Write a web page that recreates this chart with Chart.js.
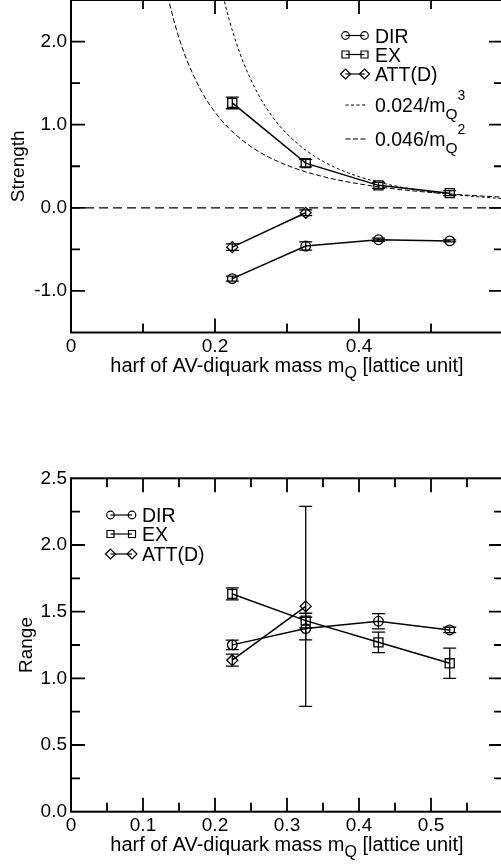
<!DOCTYPE html>
<html><head><meta charset="utf-8">
<script src="https://cdn.jsdelivr.net/npm/chart.js@4.4.0/dist/chart.umd.min.js"></script>
<style>
html,body{margin:0;padding:0;background:#fff;overflow:hidden;}
#wrap{position:relative;width:501px;height:865px;overflow:hidden;background:#fff;}
canvas{position:absolute;left:0;}
#c1{top:0;} #c2{top:440px;}
</style></head><body>
<div id="wrap"><canvas id="c1" width="503" height="400"></canvas><canvas id="c2" width="503" height="425"></canvas></div>
<script>
// ---------- data ----------
const mQ = [0.224, 0.326, 0.427, 0.526];
const mQAtt = [0.224, 0.326];

// Strength panel
const dirStrength    = [-0.852, -0.46, -0.384, -0.398];
const dirStrengthErr = [0.03, 0.05, 0.02, 0.012];
const exStrength     = [1.262, 0.537, 0.27, 0.176];
const exStrengthErr  = [0.07, 0.045, 0.035, 0.03];
const attStrength    = [-0.473, -0.06];
const attStrengthErr = [0.04, 0.035];

// reference curves
const curve3M = [0.20, 0.21, 0.22, 0.23, 0.24, 0.26, 0.28, 0.30, 0.33, 0.36, 0.40, 0.45, 0.50, 0.55, 0.60];
const curve3V = [3.0, 2.592, 2.254, 1.973, 1.736, 1.366, 1.093, 0.889, 0.668, 0.514, 0.375, 0.263, 0.192, 0.144, 0.111];
const curve2M = [0.13, 0.14, 0.15, 0.16, 0.18, 0.20, 0.22, 0.25, 0.28, 0.32, 0.36, 0.40, 0.45, 0.50, 0.55, 0.60];
const curve2V = [2.722, 2.347, 2.044, 1.797, 1.420, 1.150, 0.950, 0.736, 0.587, 0.449, 0.355, 0.288, 0.227, 0.184, 0.152, 0.128];
const zeroX = [0, 0.6];
const zeroY = [0, 0];

// Range panel
const dirRange    = [1.251, 1.373, 1.428, 1.363];
const dirRangeErr = [0.035, 0.085, 0.057, 0.02];
const exRange     = [1.633, 1.433, 1.27, 1.113];
const exRangeErr  = [0.045, 0.055, 0.077, 0.113];
const attRange    = [1.136, 1.54];
const attRangeErr = [0.045, 0.75];

// ticks
const topXTicks = [0, 0.2, 0.4];
const topYTicks = [-1.0, 0.0, 1.0, 2.0];
const botXTicks = [0, 0.1, 0.2, 0.3, 0.4, 0.5];
const botYTicks = [0.0, 0.5, 1.0, 1.5, 2.0, 2.5];

const seriesNames = ['DIR', 'EX', 'ATT(D)'];
const xTitle = ['harf of AV-diquark mass m', 'Q', ' [lattice unit]'];

// ---------- helpers ----------
const FONT = "'Liberation Sans', Arial, Helvetica, sans-serif";
const f = s => s + 'px ' + FONT;
const pts = (xs, ys) => xs.map((x, i) => ({x: x, y: ys[i]}));
const CAP = 6.5;
const TICKFONT = 19;

function drawRich(ctx, parts, x, y, align) {
  let w = 0;
  parts.forEach(p => { ctx.font = f(p[1]); w += ctx.measureText(p[0]).width; });
  let cx = align === 'center' ? x - w / 2 : x;
  ctx.textAlign = 'left'; ctx.textBaseline = 'alphabetic'; ctx.fillStyle = '#000';
  parts.forEach(p => { ctx.font = f(p[1]); ctx.fillText(p[0], cx, y + p[2]); cx += ctx.measureText(p[0]).width; });
}

function sym(ctx, type, x, y, r) {
  ctx.beginPath();
  if (type === 'circle') ctx.arc(x, y, r, 0, 2 * Math.PI);
  else if (type === 'rect') ctx.rect(x - r, y - r, 2 * r, 2 * r);
  else { ctx.moveTo(x - r, y); ctx.lineTo(x, y - r); ctx.lineTo(x + r, y); ctx.lineTo(x, y + r); ctx.closePath(); }
  ctx.stroke();
}

function makeDecor(cfg) {
  return {
    id: 'decor_' + cfg.id,
    afterDatasetsDraw(chart) {
      const ctx = chart.ctx, a = chart.chartArea, xs = chart.scales.x, ys = chart.scales.y;
      ctx.save();
      ctx.beginPath(); ctx.rect(a.left, a.top, a.right - a.left, a.bottom - a.top); ctx.clip();
      ctx.strokeStyle = '#000'; ctx.lineWidth = 1.3;
      chart.data.datasets.forEach(ds => {
        if (!ds.errors) return;
        ds.data.forEach((p, i) => {
          const e = ds.errors[i], px = xs.getPixelForValue(p.x);
          const y1 = ys.getPixelForValue(p.y + e), y2 = ys.getPixelForValue(p.y - e);
          ctx.beginPath();
          ctx.moveTo(px, y1); ctx.lineTo(px, y2);
          ctx.moveTo(px - CAP, y1); ctx.lineTo(px + CAP, y1);
          ctx.moveTo(px - CAP, y2); ctx.lineTo(px + CAP, y2);
          ctx.stroke();
        });
      });
      ctx.restore();
    },
    afterDraw(chart) {
      const ctx = chart.ctx, a = chart.chartArea, xs = chart.scales.x, ys = chart.scales.y;
      ctx.save();
      ctx.strokeStyle = '#000'; ctx.fillStyle = '#000';
      // ticks (inward, all four sides)
      ctx.lineWidth = 1.8;
      const doTicks = (min, max, minor, major, cb) => {
        const n = Math.round((max - min) / minor);
        for (let k = 1; k < n; k++) {
          const v = min + k * minor;
          const isMaj = Math.abs(v / major - Math.round(v / major)) < 1e-6;
          cb(v, isMaj ? 14 : 9);
        }
      };
      ctx.beginPath();
      doTicks(xs.min, xs.max, cfg.xMinor, cfg.xMajor, (v, L) => {
        const p = xs.getPixelForValue(v);
        ctx.moveTo(p, a.bottom); ctx.lineTo(p, a.bottom - L);
        ctx.moveTo(p, a.top); ctx.lineTo(p, a.top + L);
      });
      doTicks(ys.min, ys.max, cfg.yMinor, cfg.yMajor, (v, L) => {
        const p = ys.getPixelForValue(v);
        ctx.moveTo(a.left, p); ctx.lineTo(a.left + L, p);
        ctx.moveTo(a.right, p); ctx.lineTo(a.right - L, p);
      });
      ctx.stroke();
      // frame
      ctx.lineWidth = 2;
      ctx.strokeRect(a.left, a.top, a.right - a.left, a.bottom - a.top);
      // x title
      drawRich(ctx, [[xTitle[0], 20, 0], [xTitle[1], 16, 6], [xTitle[2], 20, 0]], (a.left + a.right) / 2, a.bottom + 39, 'center');
      // y title
      ctx.save();
      ctx.translate(cfg.yTitleX, (a.top + a.bottom) / 2);
      ctx.rotate(-Math.PI / 2);
      ctx.font = f(19); ctx.textAlign = 'center'; ctx.textBaseline = 'alphabetic';
      ctx.fillText(cfg.yTitle, 0, 0);
      ctx.restore();
      // legend
      const L = cfg.legend;
      ctx.lineWidth = 1.2;
      const types = ['circle', 'rect', 'diamond'], rs = [3.8, 3.5, 5];
      seriesNames.forEach((name, i) => {
        const cy = L.rows[i];
        ctx.beginPath(); ctx.moveTo(L.x1, cy); ctx.lineTo(L.x2, cy); ctx.stroke();
        sym(ctx, types[i], L.x1, cy, rs[i]);
        sym(ctx, types[i], L.x2, cy, rs[i]);
        ctx.font = f(19.5); ctx.textAlign = 'left'; ctx.textBaseline = 'alphabetic';
        ctx.fillText(name, L.tx, cy + 7);
      });
      if (L.curves) {
        L.curves.forEach(c => {
          ctx.save();
          ctx.lineWidth = 1; ctx.setLineDash(c.dash);
          ctx.beginPath(); ctx.moveTo(L.x1, c.y); ctx.lineTo(L.x2 + 1, c.y); ctx.stroke();
          ctx.restore();
          drawRich(ctx, [[c.text, 19.5, 0], ['Q', 15.5, 7], [c.pow, 14, -12.5]], L.tx, c.y + 7, 'left');
        });
      }
      ctx.restore();
    }
  };
}

function zeroPad(s) { s.paddingTop = 0; s.paddingBottom = 0; s.paddingLeft = 0; s.paddingRight = 0; }

function mk(id, cfg) {
  return new Chart(document.getElementById(id), {
    type: 'scatter',
    data: {datasets: cfg.datasets},
    options: {
      responsive: false, animation: false, events: [],
      layout: {padding: {top: cfg.padTop, left: 0, right: 0, bottom: 0}, autoPadding: false},
      plugins: {legend: {display: false}, tooltip: {enabled: false}},
      scales: {
        x: {type: 'linear', min: cfg.xMin, max: cfg.xMax,
            afterBuildTicks: s => { s.ticks = cfg.xTicks.map(v => ({value: v})); },
            afterFit: s => { s.height = cfg.xH; zeroPad(s); },
            ticks: {font: {family: FONT, size: TICKFONT}, color: '#000', padding: 3, autoSkip: false, maxRotation: 0,
                    callback: v => (v === 0 ? '0' : String(v))},
            grid: {display: false, drawTicks: false}, border: {display: false}},
        y: {type: 'linear', min: cfg.yMin, max: cfg.yMax,
            afterBuildTicks: s => { s.ticks = cfg.yTicks.map(v => ({value: v})); },
            afterFit: s => { s.width = 71; zeroPad(s); },
            ticks: {font: {family: FONT, size: TICKFONT}, color: '#000', padding: 4, autoSkip: false,
                    callback: v => Number(v).toFixed(1)},
            grid: {display: false, drawTicks: false}, border: {display: false}}
      }
    },
    plugins: [makeDecor(cfg)]
  });
}

const markerBase = {showLine: true, borderColor: '#000', borderWidth: 1.5, pointBorderColor: '#000',
  pointBackgroundColor: 'rgba(0,0,0,0)', pointBorderWidth: 1.3};

mk('c1', {
  id: 'top', padTop: 0, xH: 67.5, xMin: 0, xMax: 0.6, yMin: -1.5, yMax: 2.5,
  xTicks: topXTicks, yTicks: topYTicks, xMinor: 0.1, xMajor: 0.2, yMinor: 0.5, yMajor: 1.0,
  yTitle: 'Strength', yTitleX: 24,
  legend: {rows: [35.5, 54.5, 74], x1: 345.5, x2: 364.5, tx: 375,
    curves: [{y: 105, dash: [3, 2.5], text: '0.024/m', pow: '3'},
             {y: 139, dash: [5, 2.5], text: '0.046/m', pow: '2'}]},
  datasets: [
    {label: 'zero', data: pts(zeroX, zeroY), showLine: true, pointRadius: 0, borderColor: '#000', borderWidth: 1.3, borderDash: [9, 5]},
    {label: '0.024/mQ^3', data: pts(curve3M, curve3V), showLine: true, pointRadius: 0, borderColor: '#000', borderWidth: 1, borderDash: [3, 2.5], cubicInterpolationMode: 'monotone'},
    {label: '0.046/mQ^2', data: pts(curve2M, curve2V), showLine: true, pointRadius: 0, borderColor: '#000', borderWidth: 1, borderDash: [5, 2.5], cubicInterpolationMode: 'monotone'},
    Object.assign({label: 'DIR', data: pts(mQ, dirStrength), errors: dirStrengthErr, pointStyle: 'circle', pointRadius: 4.8}, markerBase),
    Object.assign({label: 'EX', data: pts(mQ, exStrength), errors: exStrengthErr, pointStyle: 'rect', pointRadius: 6.4}, markerBase),
    Object.assign({label: 'ATT(D)', data: pts(mQAtt, attStrength), errors: attStrengthErr, pointStyle: 'rectRot', pointRadius: 5.5}, markerBase)
  ]
});

mk('c2', {
  id: 'bot', padTop: 38.3, xH: 53.3, xMin: 0, xMax: 0.6, yMin: 0, yMax: 2.5,
  xTicks: botXTicks, yTicks: botYTicks, xMinor: 0.05, xMajor: 0.1, yMinor: 0.25, yMajor: 0.5,
  yTitle: 'Range', yTitleX: 31.5,
  legend: {rows: [75, 94, 114], x1: 110.5, x2: 132, tx: 142},
  datasets: [
    Object.assign({label: 'DIR', data: pts(mQ, dirRange), errors: dirRangeErr, pointStyle: 'circle', pointRadius: 4.8}, markerBase),
    Object.assign({label: 'EX', data: pts(mQ, exRange), errors: exRangeErr, pointStyle: 'rect', pointRadius: 6.4}, markerBase),
    Object.assign({label: 'ATT(D)', data: pts(mQAtt, attRange), errors: attRangeErr, pointStyle: 'rectRot', pointRadius: 5.5}, markerBase)
  ]
});
</script>
</body></html>
